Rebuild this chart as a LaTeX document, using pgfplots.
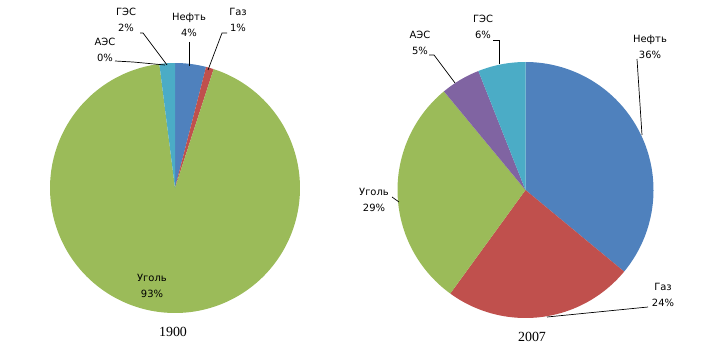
\documentclass[border=0pt]{standalone}
\usepackage{pgfplots}
\pgfplotsset{compat=1.18}
\usepackage{fontspec}
\setmainfont{DejaVu Sans}
\newfontfamily\titlefont{Liberation Serif}
\definecolor{cBlue}{HTML}{4F81BD}
\definecolor{cRed}{HTML}{C0504D}
\definecolor{cGreen}{HTML}{9BBB59}
\definecolor{cPurple}{HTML}{8064A2}
\definecolor{cAqua}{HTML}{4BACC6}
\tikzset{lbl/.style={font=\fontsize{10}{15.5}\selectfont, align=center, text=black, inner sep=0pt},
         ttl/.style={font=\titlefont\fontsize{14}{16}\selectfont, inner sep=0pt}}
% Shares (%), 1900: Нефть 4, Газ 1, Уголь 93, АЭС 0, ГЭС 2
% Shares (%), 2007: Нефть 36, Газ 24, Уголь 29, АЭС 5, ГЭС 6
% Slices start at 12 o'clock and run clockwise; angle = 90 - 3.6*cumulative share
\begin{document}
\begin{tikzpicture}
\begin{axis}[
  width=701bp, height=351bp, scale only axis,
  xmin=0, xmax=701, ymin=0, ymax=351, y dir=reverse,
  hide axis, clip=false,
]
% ---- 1900 pie: centre (175,188), r = 125
\addplot[fill=cBlue, draw=none, domain={90-3.6*4}:90, samples=30] ({175+125*cos(x)},{188-125*sin(x)}) -- (axis cs:175,188) -- cycle;
\addplot[fill=cRed, draw=none, domain={90-3.6*5}:{90-3.6*4}, samples=10] ({175+125*cos(x)},{188-125*sin(x)}) -- (axis cs:175,188) -- cycle;
\addplot[fill=cGreen, draw=none, domain={90-3.6*98}:{90-3.6*5}, samples=200] ({175+125*cos(x)},{188-125*sin(x)}) -- (axis cs:175,188) -- cycle;
\addplot[fill=cAqua, draw=none, domain={90-3.6*100}:{90-3.6*98}, samples=10] ({175+125*cos(x)},{188-125*sin(x)}) -- (axis cs:175,188) -- cycle;
% leader lines 1900
\addplot[black, line width=0.7pt] coordinates {(115,61) (133,62) (165,65)};
\addplot[black, line width=0.7pt] coordinates {(140,33) (143,33) (167,65)};
\addplot[black, line width=0.7pt] coordinates {(189,42) (189,66)};
\addplot[black, line width=0.7pt] coordinates {(227,33) (222,33) (208,70)};
\node[lbl] at (axis cs:126,20) {ГЭС\\2\%};
\node[lbl] at (axis cs:189,25) {Нефть\\4\%};
\node[lbl] at (axis cs:238,20) {Газ\\1\%};
\node[lbl] at (axis cs:105,50) {АЭС\\0\%};
\node[lbl] at (axis cs:152,286) {Уголь\\93\%};
\node[ttl] at (axis cs:173,332) {1900};
% ---- 2007 pie: centre (525.5,190), r = 128
\addplot[fill=cBlue, draw=none, domain={90-3.6*36}:90, samples=80] ({525.5+128*cos(x)},{190-128*sin(x)}) -- (axis cs:525.5,190) -- cycle;
\addplot[fill=cRed, draw=none, domain={90-3.6*60}:{90-3.6*36}, samples=60] ({525.5+128*cos(x)},{190-128*sin(x)}) -- (axis cs:525.5,190) -- cycle;
\addplot[fill=cGreen, draw=none, domain={90-3.6*89}:{90-3.6*60}, samples=60] ({525.5+128*cos(x)},{190-128*sin(x)}) -- (axis cs:525.5,190) -- cycle;
\addplot[fill=cPurple, draw=none, domain={90-3.6*94}:{90-3.6*89}, samples=20] ({525.5+128*cos(x)},{190-128*sin(x)}) -- (axis cs:525.5,190) -- cycle;
\addplot[fill=cAqua, draw=none, domain={90-3.6*100}:{90-3.6*94}, samples=20] ({525.5+128*cos(x)},{190-128*sin(x)}) -- (axis cs:525.5,190) -- cycle;
% leader lines 2007
\addplot[black, line width=0.7pt] coordinates {(429,55) (434,55) (455,83)};
\addplot[black, line width=0.7pt] coordinates {(493,40) (499,40) (499,64)};
\addplot[black, line width=0.7pt] coordinates {(637,59) (642,135)};
\addplot[black, line width=0.7pt] coordinates {(392,197) (399,202)};
\addplot[black, line width=0.7pt] coordinates {(648,307) (547,317)};
\node[lbl] at (axis cs:420,43) {АЭС\\5\%};
\node[lbl] at (axis cs:483,27) {ГЭС\\6\%};
\node[lbl] at (axis cs:650,47) {Нефть\\36\%};
\node[lbl] at (axis cs:374,200) {Уголь\\29\%};
\node[lbl] at (axis cs:663,295) {Газ\\24\%};
\node[ttl] at (axis cs:532,337) {2007};
\end{axis}
\pgfresetboundingbox
\path[use as bounding box] (current axis.south west) rectangle (current axis.north east);
\end{tikzpicture}
\end{document}
